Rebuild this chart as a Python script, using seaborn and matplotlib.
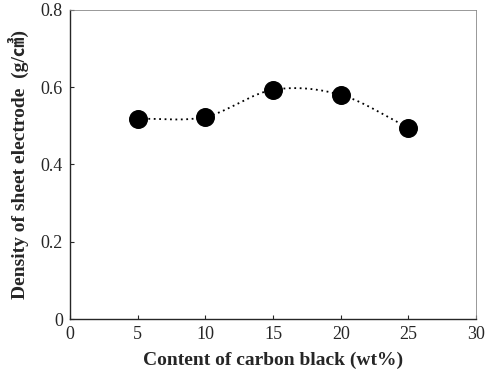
import numpy as np
import matplotlib
matplotlib.use("Agg")
import matplotlib.pyplot as plt
import seaborn as sns
import pandas as pd

carbon = [5, 10, 15, 20, 25]
density = [0.518, 0.523, 0.593, 0.580, 0.495]
xticks = [0, 5, 10, 15, 20, 25, 30]
yticks = [0, 0.2, 0.4, 0.6, 0.8]
ytick_labels = ["0", "0.2", "0.4", "0.6", "0.8"]

sns.set_style("ticks")
plt.rcParams['font.family'] = ['Liberation Serif', 'Noto Sans CJK JP', 'DejaVu Sans']

df = pd.DataFrame({"carbon": carbon, "density": density})

fig = plt.figure(figsize=(4.95, 3.78), dpi=100)
ax = fig.add_axes([0.141, 0.156, 0.821, 0.818])

# smooth display curve (Catmull-Rom Hermite through the data points)
x = np.array(carbon, float); y = np.array(density, float)
n = len(x)
m = np.zeros(n)
m[0] = (y[1] - y[0]) / (x[1] - x[0])
m[-1] = (y[-1] - y[-2]) / (x[-1] - x[-2])
for i in range(1, n - 1):
    m[i] = (y[i + 1] - y[i - 1]) / (x[i + 1] - x[i - 1])
xs, ys = [], []
for i in range(n - 1):
    hh = x[i + 1] - x[i]
    t = np.linspace(0, 1, 40)
    h00 = 2 * t**3 - 3 * t**2 + 1; h10 = t**3 - 2 * t**2 + t
    h01 = -2 * t**3 + 3 * t**2; h11 = t**3 - t**2
    xs.extend(x[i] + t * hh)
    ys.extend(h00 * y[i] + h10 * hh * m[i] + h01 * y[i + 1] + h11 * hh * m[i + 1])
ax.plot(xs, ys, color="black", linestyle=(0, (1, 2)), linewidth=1.3, zorder=2)

sns.scatterplot(data=df, x="carbon", y="density", ax=ax, s=160, color="black",
                edgecolor="black", zorder=3, legend=False)

ax.set_xlim(0, 30)
ax.set_ylim(0, 0.8)
ax.set_xticks(xticks)
ax.set_xticklabels([str(v) for v in xticks])
ax.set_yticks(yticks)
ax.set_yticklabels(ytick_labels)
ax.tick_params(direction="in", length=3, labelsize=13, width=0.8, pad=5)
ax.set_xlabel("Content of carbon black (wt%)", fontsize=14, fontweight="bold", labelpad=6)
ax.set_ylabel("Density of sheet electrode  (g/㎤)", fontsize=14, fontweight="bold", labelpad=8)
for s in ["left", "bottom"]:
    ax.spines[s].set_linewidth(1.0)
for s in ["top", "right"]:
    ax.spines[s].set_linewidth(0.6)
    ax.spines[s].set_color("#888888")

fig.savefig("out.png", dpi=100)
